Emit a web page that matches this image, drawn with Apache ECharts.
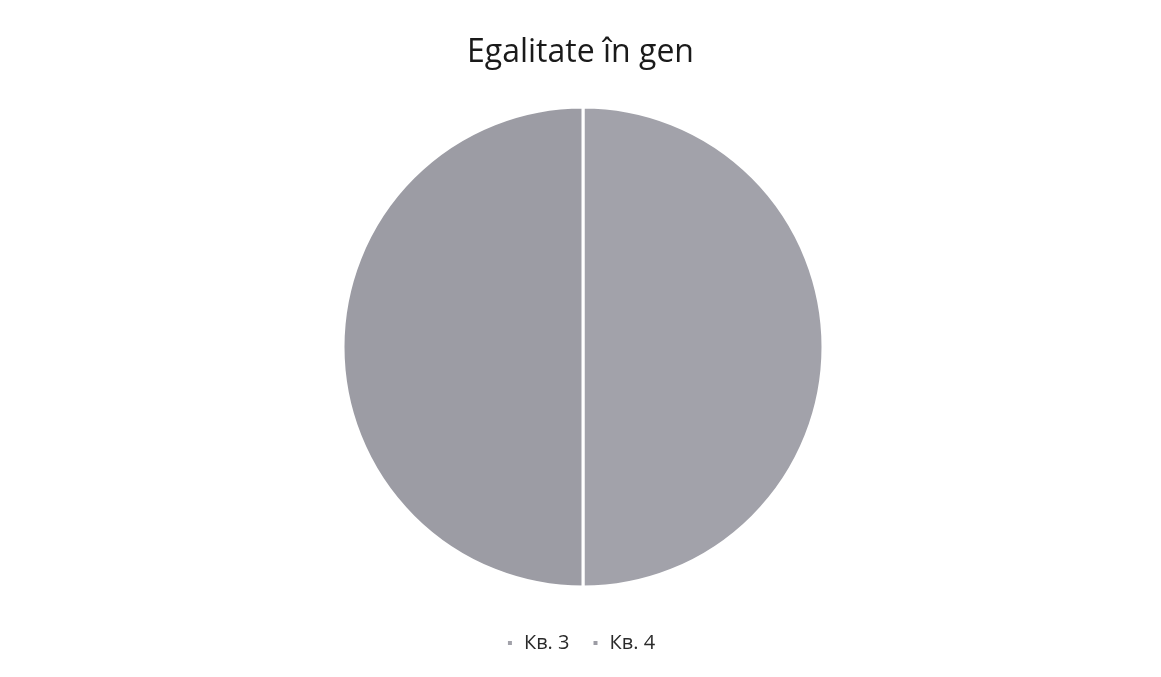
<!DOCTYPE html>
<html>
<head>
<meta charset="utf-8">
<title>Egalitate în gen</title>
<script src="https://cdn.jsdelivr.net/npm/echarts@6/dist/echarts.min.js"></script>
<style>
  html, body { margin: 0; padding: 0; background: #fff; }
  #main { width: 1161px; height: 677px; }
</style>
</head>
<body>
<div id="main"></div>
<script>
// date
var categories = ['Кв. 3', 'Кв. 4'];
var values = [50, 50];
var colors = ['#a2a2aa', '#9c9ca4'];

var chart = echarts.init(document.getElementById('main'));

var pieData = categories.map(function (name, i) {
  return { name: name, value: values[i], itemStyle: { color: colors[i] } };
});

chart.setOption({
  animation: false,
  title: {
    text: 'Egalitate în gen',
    left: 'center',
    top: 32,
    textStyle: {
      fontFamily: 'Open Sans',
      fontSize: 32,
      fontWeight: 'normal',
      color: '#1a1a1a'
    }
  },
  legend: {
    data: categories,
    bottom: 19,
    left: 'center',
    icon: 'rect',
    itemWidth: 6,
    itemHeight: 6,
    itemGap: 22,
    textStyle: { fontFamily: 'Open Sans', fontSize: 20, color: '#2a2a2a', padding: [0, 0, 0, 6] }
  },
  series: [{
    type: 'pie',
    center: [583, 347],
    radius: [0, 240],
    startAngle: 90,
    clockwise: true,
    label: { show: false },
    labelLine: { show: false },
    itemStyle: { borderColor: '#fff', borderWidth: 3 },
    emphasis: { disabled: true },
    data: pieData
  }]
});
</script>
</body>
</html>
